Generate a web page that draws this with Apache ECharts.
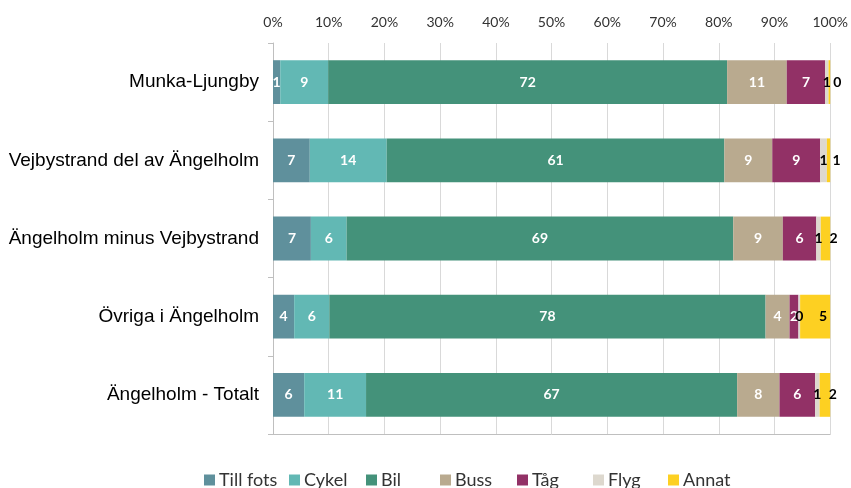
<!DOCTYPE html>
<html>
<head>
<meta charset="utf-8">
<script src="https://cdn.jsdelivr.net/npm/echarts@6/dist/echarts.min.js"></script>
<style>
  html, body { margin: 0; padding: 0; background: #fff; }
  #chart { width: 851px; height: 488px; }
</style>
</head>
<body>
<div id="chart"></div>
<script>
// kategorier (uppifrån och ned)
const categories = ['Munka-Ljungby', 'Vejbystrand del av Ängelholm', 'Ängelholm minus Vejbystrand', 'Övriga i Ängelholm', 'Ängelholm - Totalt'];
const xTicks = [0, 10, 20, 30, 40, 50, 60, 70, 80, 90, 100];

// andel i procent per färdsätt
const tillFots = [1.3, 6.6, 6.8, 3.8, 5.6];
const cykel    = [8.6, 13.8, 6.4, 6.3, 11.1];
const bil      = [71.6, 60.6, 69.4, 78.3, 66.6];
const buss     = [10.7, 8.6, 8.9, 4.3, 7.6];
const tag      = [6.9, 8.6, 6.0, 1.6, 6.4];
const flyg     = [0.6, 1.2, 0.8, 0.3, 0.8];
const annat    = [0.3, 0.6, 1.7, 5.4, 1.9];

const seriesDefs = [
  { name: 'Till fots', data: tillFots, color: '#5f909c', dark: false },
  { name: 'Cykel', data: cykel, color: '#62b8b4', dark: false },
  { name: 'Bil', data: bil, color: '#44927a', dark: false },
  { name: 'Buss', data: buss, color: '#b9aa8f', dark: false },
  { name: 'Tåg', data: tag, color: '#923166', dark: false },
  { name: 'Flyg', data: flyg, color: '#ddd8ce', dark: true },
  { name: 'Annat', data: annat, color: '#fdd022', dark: true, offset: [8, 0] }
];

// Excel-liknande legend: varje post på egen plats
const legendLeft = [204, 289, 366, 440, 517, 593, 668];

const chart = echarts.init(document.getElementById('chart'));

const option = {
  animation: false,
  grid: { left: 273, right: 20, top: 43, bottom: 54 },
  xAxis: [
    {
      type: 'value',
      position: 'top',
      min: xTicks[0],
      max: xTicks[xTicks.length - 1],
      interval: 10,
      axisLine: { show: false },
      axisTick: { show: false },
      axisLabel: {
        formatter: '{value}%',
        color: '#333',
        fontFamily: 'Lato',
        fontSize: 14,
        margin: 14
      },
      splitLine: { lineStyle: { color: '#d9d9d9', width: 1 } }
    },
    {
      type: 'value',
      position: 'bottom',
      min: 0,
      max: 100,
      axisLine: { show: true, lineStyle: { color: '#bfbfbf' } },
      axisTick: { show: false },
      axisLabel: { show: false },
      splitLine: { show: false }
    }
  ],
  yAxis: {
    type: 'category',
    data: categories,
    inverse: true,
    axisLine: { show: true, lineStyle: { color: '#bfbfbf' } },
    axisTick: { show: true, length: 5, lineStyle: { color: '#bfbfbf' } },
    axisLabel: {
      color: '#000',
      fontFamily: 'Liberation Sans',
      fontSize: 19,
      margin: 14
    }
  },
  legend: seriesDefs.map((s, i) => ({
    top: 471,
    left: legendLeft[i],
    itemWidth: 11,
    itemHeight: 11,
    itemGap: 0,
    padding: 0,
    icon: 'rect',
    textStyle: { color: '#333', fontFamily: 'Lato', fontSize: 18, padding: [0, 0, 0, -1] },
    data: [s.name]
  })),
  series: seriesDefs.map(s => ({
    name: s.name,
    type: 'bar',
    stack: 'total',
    barCategoryGap: '44%',
    data: s.data,
    itemStyle: { color: s.color },
    label: {
      show: true,
      position: 'inside',
      offset: s.offset || [0, 0],
      color: s.dark ? '#000' : '#fff',
      fontFamily: 'Lato',
      fontWeight: 'bold',
      fontSize: 14,
      formatter: p => Math.round(p.value)
    }
  }))
};

chart.setOption(option);
</script>
</body>
</html>
